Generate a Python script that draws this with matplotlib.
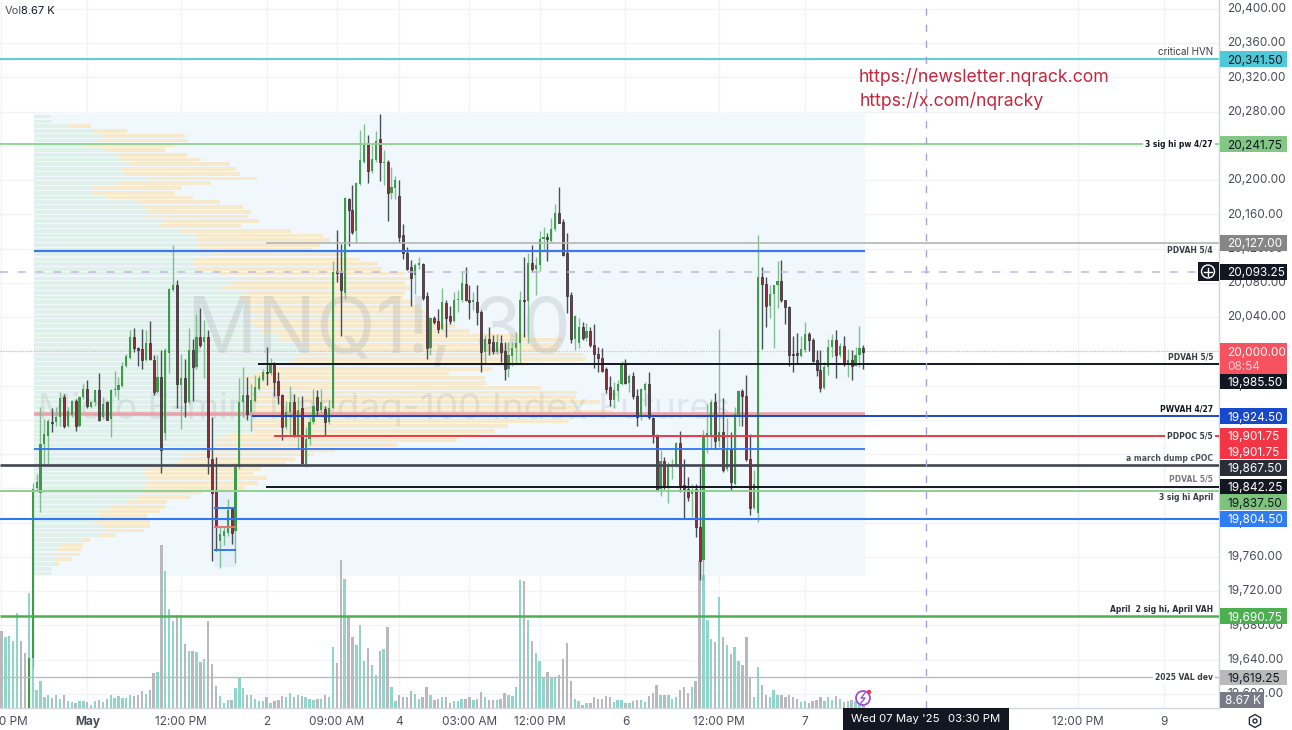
import numpy as np
import matplotlib
matplotlib.use("Agg")
import matplotlib.pyplot as plt
from matplotlib.patches import Rectangle, Circle, RegularPolygon
from matplotlib.transforms import ScaledTranslation

plt.rcParams['font.family'] = ['Inter', 'DejaVu Sans']

# 30 minute bars, the first one starts at index -1
opens = [19560,19640,19839,19833,19890,19900,19916,19916,19922,19945,
    19912,19924,19941,19911,19945,19955,19934,19939,19953,19922,
    19939,19920,19953,19953,19958,19981,19991,20015,20003,20001,
    19988,20008,19989,19951,19969,19903,19997,20070,20076,19959,
    19967,19939,20000,19980,20015,20010,20015,19873,19835,19777,
    19783,19786,19815,19789,19863,19939,19948,19928,19941,19955,
    19965,19975,19973,19983,19964,19948,19910,19928,19939,19900,
    19932,19867,19896,19916,19945,19930,19931,19916,19932,20093,
    20090,20067,20177,20164,20139,20194,20220,20240,20209,20222,
    20246,20218,20220,20183,20189,20180,20134,20113,20097,20088,
    20099,20101,20063,20002,20038,20034,20025,20055,20040,20034,
    20058,20058,20077,20059,20056,20056,20045,19998,20013,20010,
    19998,20008,19999,19978,19993,20002,20008,20058,20057,20102,
    20095,20099,20130,20132,20128,20141,20160,20150,20113,20064,
    20013,20008,20027,20014,20022,20006,19995,19991,19978,19957,
    19942,19952,19961,19985,19962,19970,19946,19922,19954,19961,
    19921,19900,19838,19871,19840,19864,19865,19891,19843,19838,
    19832,19838,19794,19755,19898,19898,19940,19894,19904,19861,
    19885,19844,19924,19952,19946,19873,19816,19810,20085,20077,
    20051,20065,20076,20081,20058,20050,19996,19997,19993,20000,
    20019,20012,19988,19977,19956,19980,20004,20012,19994,20005,
    19984,19988,19982,19994,20003]
highs = [19641,19845,19855,19934,19920,19920,19932,19934,19951,19949,
    19934,19942,19943,19946,19960,19965,19941,19954,19973,19945,
    19941,19955,19976,19969,19986,19996,20023,20026,20004,20025,
    20024,20034,19994,19994,20000,20003,20072,20123,20082,19996,
    19990,20026,20013,20042,20049,20035,20024,19922,19875,19793,
    19793,19826,19817,19868,19967,19980,19969,19961,19971,19971,
    19978,20004,19991,19986,19974,19949,19941,19958,19949,19945,
    19947,19910,19922,19955,19954,19955,19935,19942,20104,20140,
    20124,20179,20178,20193,20196,20257,20264,20251,20240,20256,
    20276,20234,20222,20214,20203,20199,20147,20120,20105,20102,
    20109,20102,20068,20039,20040,20048,20072,20058,20052,20068,
    20070,20091,20097,20076,20068,20076,20047,20018,20027,20018,
    20019,20018,20009,20009,20009,20021,20069,20109,20113,20123,
    20109,20139,20144,20137,20154,20171,20190,20153,20137,20068,
    20041,20037,20033,20032,20027,20030,20004,20002,19980,19970,
    19963,19965,19987,19990,19972,19974,19955,19956,19963,19974,
    19922,19902,19883,19875,19869,19873,19893,19905,19873,19852,
    19844,19844,19863,19907,19937,19943,19950,20025,19944,19921,
    19904,19934,19953,19955,19971,19902,19860,20135,20097,20086,
    20076,20076,20104,20105,20059,20052,20016,20020,20016,20033,
    20021,20014,20000,20000,19986,20013,20019,20023,20008,20016,
    20001,20000,20004,20028,20006]
lows = [19560,19630,19835,19811,19867,19867,19904,19911,19912,19909,
    19910,19922,19906,19910,19943,19933,19932,19935,19917,19920,
    19918,19899,19947,19942,19957,19980,19990,19998,19981,19978,
    19987,19988,19948,19950,19856,19895,19973,20069,19932,19908,
    19922,19937,19941,19978,20004,19967,19855,19754,19766,19746,
    19772,19783,19774,19752,19861,19922,19918,19906,19939,19953,
    19964,19959,19971,19946,19937,19895,19908,19900,19899,19885,
    19867,19863,19889,19914,19924,19927,19900,19914,19931,20079,
    20017,20060,20122,20136,20125,20193,20219,20195,20207,20220,
    20197,20193,20151,20177,20177,20125,20107,20094,20051,20066,
    20095,20058,19990,19994,20031,20020,20024,20015,20030,20033,
    20045,20056,20057,20036,20047,20029,19974,19984,19994,19995,
    19996,19986,19965,19969,19982,19984,19984,20015,20008,20091,
    20064,20093,20117,20104,20126,20139,20148,20110,20043,20008,
    20000,20002,20012,20011,20004,19979,19974,19974,19950,19935,
    19932,19941,19959,19960,19951,19943,19912,19919,19935,19920,
    19892,19835,19830,19838,19822,19850,19864,19834,19804,19824,
    19805,19782,19731,19731,19880,19885,19884,19887,19858,19859,
    19836,19842,19912,19912,19870,19807,19814,19799,20001,20027,
    20038,20003,20049,20056,20031,19982,19975,19984,19992,19998,
    19999,19986,19970,19951,19955,19971,19992,19968,19992,19982,
    19969,19965,19981,19980,19978]
closes = [19641,19838,19846,19890,19902,19917,19915,19922,19944,19912,
    19929,19941,19912,19945,19955,19935,19940,19953,19919,19937,
    19919,19953,19955,19959,19982,19993,20015,20002,20000,19988,
    20008,19990,19951,19969,19883,20000,20071,20076,19960,19967,
    19939,20000,19980,20015,20006,20015,19875,19833,19794,19785,
    19789,19813,19787,19864,19940,19948,19926,19942,19957,19967,
    19975,19973,19984,19963,19948,19910,19928,19939,19900,19930,
    19868,19896,19916,19935,19930,19939,19916,19933,20091,20090,
    20070,20178,20164,20138,20195,20222,20240,20209,20223,20244,
    20220,20220,20184,20190,20199,20132,20113,20095,20084,20100,
    20102,20061,20002,20038,20033,20025,20056,20038,20034,20058,
    20060,20078,20058,20056,20058,20045,19998,20013,20008,19999,
    20009,19998,19978,19994,20002,20008,20058,20057,20102,20095,
    20100,20130,20132,20130,20141,20160,20149,20111,20063,20013,
    20040,20027,20014,20022,20006,19995,19991,19976,19955,19943,
    19953,19961,19984,19962,19970,19947,19922,19955,19960,19922,
    19900,19836,19871,19840,19866,19866,19891,19842,19838,19828,
    19836,19793,19754,19898,19903,19939,19894,19904,19860,19885,
    19846,19926,19952,19946,19873,19816,19844,20085,20077,20051,
    20065,20076,20081,20058,20050,19994,19994,19994,20001,20019,
    20012,19987,19977,19956,19980,20004,20012,19994,20005,19984,
    19988,19982,19994,20002,19998]

# volume in thousands, the first bar is index -8
volumes = [116,107,108,101,143,100,82,173,82,27,
    40,16,19,15,20,13,19,11,9,8,
    11,11,9,5,11,12,9,13,20,15,
    18,15,15,19,18,19,26,21,27,52,
    54,245,205,149,130,140,139,96,85,85,
    84,69,73,131,66,33,18,8,12,12,
    30,45,30,20,20,13,10,11,16,8,
    10,12,18,17,23,17,19,18,17,13,
    12,14,14,20,16,91,68,222,194,137,
    107,95,124,70,90,65,50,85,89,122,
    32,10,20,16,17,26,21,14,17,31,
    20,12,14,16,16,8,10,10,13,14,
    16,12,13,24,16,12,12,12,13,22,
    19,18,31,192,191,132,100,82,70,46,
    54,45,45,50,74,97,40,13,11,5,
    7,8,16,14,13,18,16,9,12,12,
    8,7,10,12,12,9,18,23,35,19,
    19,20,13,17,27,32,22,32,41,221,
    200,132,103,99,167,107,95,81,92,71,
    65,107,45,17,62,35,19,17,27,19,
    20,17,20,17,13,9,11,8,10,12,
    16,11,17,12,18,14,9,11,12,11,
    10,9]
# direction of the bars before the first candle
early_up = [False, True, True, True, True, False, False]

# volume profile rows from the top row down, up and total length per row
vp_high = 20277
vp_low = 19738
vp_up = [17,18,34,59,70,64,52,72,84,88,95,87,91,114,84,58,59,73,104,109,
    116,111,130,126,146,163,162,163,168,178,161,157,163,186,209,198,188,212,206,211,
    213,216,221,216,221,228,246,246,266,276,266,261,256,241,221,211,211,218,216,216,
    218,219,219,219,219,218,219,193,184,183,168,149,148,142,114,109,113,111,111,110,
    104,94,76,64,66,60,67,69,66,48,28,24,22,21,21,18,17]
vp_total = [17,18,57,93,151,154,141,131,153,167,196,202,206,223,177,148,141,159,186,209,
    217,215,225,207,257,289,296,286,279,311,326,344,348,371,376,371,376,371,369,379,
    386,391,396,406,421,436,493,529,525,524,549,552,495,458,415,451,452,507,543,542,
    566,544,579,549,535,474,461,445,423,364,301,280,261,252,227,219,233,224,211,168,
    156,133,132,126,113,116,116,110,82,56,49,47,46,38,25,17,17]

tick_prices = np.arange(19600, 20401, 40)
date_ticks = [-8, 14, 38, 60, 78, 94, 112, 130, 152, 176, 198, 268, 290]
date_labels = ['12:00 PM', 'May', '12:00 PM', '2', '09:00 AM', '4', '03:00 AM', '12:00 PM', '6',
               '12:00 PM', '7', '12:00 PM', '9']

fig = plt.figure(figsize=(12.92, 7.30), dpi=100)
ax = fig.add_axes([0, 22 / 730, 1219 / 1292, 708 / 730])
xlim = (-8.38, 304.2)
ylim = (19583.6, 20410.4)

# volume in the bottom of the same axes, 1 pixel is 1.5K
vol_x = np.arange(-8, -8 + len(volumes))
vol_colors = []
for i in vol_x:
    if i < -1:
        is_up = early_up[i + 8]
    else:
        is_up = closes[i + 1] >= opens[i + 1]
    vol_colors.append('#8ed6ca' if is_up else '#b9b9bd')
ax.bar(vol_x, np.array(volumes) / (708 * 1.5), width=0.6, color=vol_colors, lw=0,
       transform=ax.get_xaxis_transform(), zorder=1.3)

ax.set_xlim(xlim)
ax.set_ylim(ylim)
ax.set_axisbelow(True)
ax.yaxis.tick_right()
ax.set_yticks(tick_prices)
ax.set_yticklabels([f'{p:,.2f}' for p in tick_prices])
ax.set_xticks(date_ticks)
ax.set_xticklabels(date_labels)
ax.tick_params(axis='y', length=0, pad=5.8, labelsize=8.5, labelcolor='#4a4d57')
ax.tick_params(axis='x', length=0, pad=6, labelsize=8.5, labelcolor='#4a4d57')
ax.get_xticklabels()[1].set_fontweight('bold')
up_shift = ScaledTranslation(0, 1.2 / 100, fig.dpi_scale_trans)
for lab in ax.get_yticklabels():
    lab.set_transform(lab.get_transform() + up_shift)
ax.grid(color='#f1f3f7', lw=1)
for name, s in ax.spines.items():
    s.set_visible(name in ('right', 'bottom'))
    s.set_color('#d1d4dc')
    s.set_linewidth(1)

# visible range profile
ax.add_patch(Rectangle((0.33, vp_low), 213.2, vp_high - vp_low, color='#f0f8fd', lw=0, zorder=1))
rows = np.linspace(vp_high, vp_low, len(vp_up) + 1)
row_mid = (rows[:-1] + rows[1:]) / 2
row_h = (vp_high - vp_low) / len(vp_up)
up = np.array(vp_up) / 3.9
total = np.array(vp_total) / 3.9
ax.barh(row_mid, up, left=0.33, height=row_h * 0.78, color='#e0f0ea', lw=0, zorder=1.2)
ax.barh(row_mid, total - up, left=0.33 + up, height=row_h * 0.78, color='#f7e9cb', lw=0, zorder=1.2)

# watermark
ax.text(39.6, 20022, 'MNQ1!, 30', fontsize=56, color='#9aa0a8', alpha=0.24, ha='left', va='center', zorder=1.5)
ax.text(1.3, 19933, 'Micro E-mini Nasdaq-100 Index Futures', fontsize=26.5, color='#9aa0a8', alpha=0.2,
        ha='left', va='center', zorder=1.5)

# small box around the low
ax.add_patch(Rectangle((46.4, 19748), 5.7, 88, color='#e3f0fb', lw=0, zorder=1.4))

# candles with a small scale correction
o = np.array(opens) + 1.5
h = np.array(highs) + 1.5
l = np.array(lows) + 1.5
c = np.array(closes) + 1.5
bar_x = np.arange(-1, -1 + len(o))
rising = c >= o
ax.vlines(bar_x[rising], l[rising], h[rising], color='#82bf90', lw=1.0, zorder=3)
ax.vlines(bar_x[~rising], l[~rising], h[~rising], color='#4a4d55', lw=1.0, zorder=3)
ax.bar(bar_x[rising], (c - o)[rising], bottom=o[rising], width=0.55, color='#3f9a4b', lw=0, zorder=3.2)
ax.bar(bar_x[~rising], (o - c)[~rising], bottom=c[~rising], width=0.5, color='#8d2f3b', edgecolor='#2c2c31',
       lw=0.5, zorder=3.2)

# horizontal levels: price, first bar, last bar, color, width, layer
levels = [(20341.5, xlim[0], xlim[1], '#5fd0d3', 1.5, 4),
          (20241.75, xlim[0], xlim[1], '#8fd08f', 1.3, 4),
          (20127, 59.8, xlim[1], '#b4b4b4', 1.2, 4),
          (20117, 0.33, 213.5, '#3b77f0', 1.6, 4),
          (19985.5, 57.8, xlim[1], '#131722', 1.4, 4),
          (19927, 0.33, 213.5, '#e9a3aa', 2.6, 2.5),
          (19924.5, 56.2, xlim[1], '#1c46c8', 1.4, 4),
          (19901.75, 61.9, xlim[1], '#f23645', 1.4, 4),
          (19886, 0.33, 213.5, '#2f78f5', 1.3, 4),
          (19867.5, xlim[0], xlim[1], '#434651', 1.9, 4),
          (19842.25, 59.8, xlim[1], '#131722', 1.4, 4),
          (19837.5, xlim[0], xlim[1], '#8fd08f', 1.4, 4),
          (19804.5, xlim[0], xlim[1], '#2f78f5', 1.5, 4),
          (19690.75, xlim[0], xlim[1], '#4caf50', 1.8, 4),
          (19619.25, xlim[0], xlim[1], '#b8bbc2', 1.0, 4),
          (19817.5, 46.4, 52.1, '#2f78f5', 1.4, 4),
          (19768.5, 46.4, 52.1, '#2f78f5', 1.4, 4),
          (19795.5, 46.4, 52.1, '#e57373', 1.4, 4)]
for price, x0, x1, col, lw, layer in levels:
    ax.hlines(price, x0, x1, color=col, lw=lw, zorder=layer)

ax.axhline(20000, color='#f7a3aa', lw=0.8, ls=(0, (1, 1.5)), zorder=2)
ax.axhline(20093.25, color='#c2b5df', lw=1.1, ls=(0, (5.2, 6.4)), zorder=4)
ax.axvline(229, color='#a9a0d0', lw=1.0, ls=(0, (5.2, 6.4)), zorder=4)

# level names
yt = ax.get_yaxis_transform()
label_x = 1213 / 1219
names = [('critical HVN', 20350, '#3a3d44', 'normal', False),
         ('3 sig hi pw 4/27', 20241.5, '#131722', 'bold', True),
         ('PDVAH 5/4', 20118.5, '#3a3d44', 'bold', False),
         ('PDVAH 5/5', 19993.5, '#3a3d44', 'bold', False),
         ('PWVAH 4/27', 19932.5, '#131722', 'bold', False),
         ('PDPOC 5/5', 19901.75, '#3a3d44', 'bold', True),
         ('a march dump cPOC', 19875.5, '#50535e', 'bold', False),
         ('PDVAL 5/5', 19850.5, '#787b86', 'bold', False),
         ('3 sig hi April', 19829.5, '#3a3d44', 'bold', False),
         ('April  2 sig hi, April VAH', 19698.5, '#2a2e39', 'bold', False),
         ('2025 VAL dev', 19619.25, '#3a3d44', 'bold', True)]
for txt, price, col, weight, boxed in names:
    kw = {}
    if boxed:
        kw['bbox'] = dict(facecolor='white', edgecolor='none', pad=1.5)
    fs = 7.1 if weight == 'normal' else 5.5
    name_font = 'Inter' if weight == 'normal' else 'DejaVu Sans'
    ax.text(label_x, price, txt, transform=yt, ha='right', va='center', fontsize=fs, color=col,
            fontweight=weight, family=name_font, zorder=5, **kw)

# price labels on the scale: text, position, background, text color
badges = [('20,341.50', 20341.5, '#4fc8d8', '#131722'),
          ('20,241.75', 20241.75, '#82c784', '#131722'),
          ('20,127.00', 20127, '#868686', '#ffffff'),
          ('20,093.25', 20093.25, '#131722', '#ffffff'),
          ('19,985.50', 19965.4, '#131722', '#ffffff'),
          ('19,924.50', 19924.5, '#1848cc', '#ffffff'),
          ('19,901.75', 19901.75, '#f23645', '#ffffff'),
          ('19,901.75', 19883.7, '#f23645', '#ffffff'),
          ('19,867.50', 19863.9, '#2a2e39', '#ffffff'),
          ('19,842.25', 19842.25, '#131722', '#ffffff'),
          ('19,837.50', 19824, '#7cc47c', '#131722'),
          ('19,804.50', 19804.5, '#2f7df6', '#ffffff'),
          ('19,690.75', 19690.75, '#4caf50', '#ffffff'),
          ('19,619.25', 19619.25, '#b9b9b9', '#131722')]
bx0 = 1 + 1 / 1219
bw = 67 / 1219
for txt, price, bg, fg in badges:
    ax.add_patch(Rectangle((bx0, price - 9.3), bw, 18.6, transform=yt, facecolor=bg, edgecolor='none',
                           clip_on=False, zorder=6))
    ax.text(1 + 8 / 1219, price, txt, transform=yt, ha='left', va='center_baseline', fontsize=8.5, color=fg,
            clip_on=False, zorder=7)

# last price, two lines
ax.add_patch(Rectangle((bx0, 19973.6), bw, 36.2, transform=yt, facecolor='#f7525f', edgecolor='none', clip_on=False,
                       zorder=6))
ax.text(1 + 8 / 1219, 20000.5, '20,000.00', transform=yt, ha='left', va='center_baseline', fontsize=8.5,
        color='#ffffff', clip_on=False, zorder=7)
ax.text(1 + 8 / 1219, 19983, '08:54', transform=yt, ha='left', va='center_baseline', fontsize=8.5, color='#ffd0d4',
        clip_on=False, zorder=7)
# volume label
ax.add_patch(Rectangle((bx0, ylim[0]), 44 / 1219, 18.7, transform=yt, facecolor='#787b86', edgecolor='none',
                       clip_on=False, zorder=6))
ax.text(1 + 6 / 1219, 19593, '8.67 K', transform=yt, ha='left', va='center_baseline', fontsize=8.5, color='#ffffff',
        clip_on=False, zorder=7)

# page items drawn in pixels over everything
ov = fig.add_axes([0, 0, 1, 1], zorder=10)
ov.set_xlim(0, 1292)
ov.set_ylim(730, 0)
ov.axis('off')
ov.text(5, 11, 'Vol', fontsize=8, color='#50535e', va='center')
ov.text(21, 11, '8.67 K', fontsize=8, color='#131722', va='center')
ov.text(859, 77, 'https://newsletter.nqrack.com', fontsize=12.7, color='#c4263d', va='center')
ov.text(860, 101, 'https://x.com/nqracky', fontsize=12.7, color='#c4263d', va='center')
ov.add_patch(Rectangle((1198, 262), 21, 19, facecolor='#131722', edgecolor='none'))
ov.add_patch(Circle((1208, 271.5), 6.5, facecolor='none', edgecolor='white', lw=1))
ov.plot([1204, 1212], [271.5, 271.5], color='white', lw=1)
ov.plot([1208, 1208], [267.5, 275.5], color='white', lw=1)
ov.add_patch(Rectangle((843, 708), 166, 22, facecolor='#131722', edgecolor='none'))
ov.text(851, 719.5, "Wed 07 May '25", fontsize=8.2, color='white', va='center')
ov.text(948, 719.5, '03:30 PM', fontsize=8.2, color='white', va='center')
ov.add_patch(RegularPolygon((1255, 721), 6, radius=6.5, facecolor='none', edgecolor='#2a2e39', lw=1))
ov.add_patch(Circle((1255, 721), 2, facecolor='none', edgecolor='#2a2e39', lw=1))
# flash icon
ov.add_patch(Circle((863, 698), 7, facecolor='white', edgecolor='#9c4fd6', lw=1.3))
ov.plot([865, 861, 865, 861], [693, 698, 698, 703], color='#9c4fd6', lw=1)
ov.add_patch(Circle((869, 692), 2.2, facecolor='#f23645', edgecolor='none'))

fig.savefig('out.png', dpi=100)
